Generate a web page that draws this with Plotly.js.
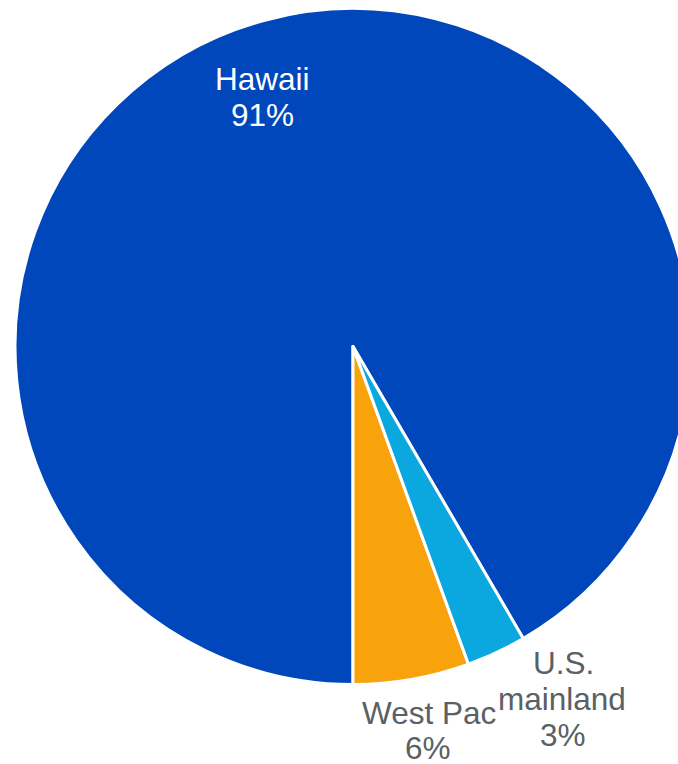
<!DOCTYPE html>
<html>
<head>
<meta charset="utf-8">
<script src="https://cdn.plot.ly/plotly-3.0.1.min.js"></script>
<style>
html,body{margin:0;padding:0;overflow:hidden;background:#fff;width:678px;height:764px;}
#chart{width:710px;height:764px;}
</style>
</head>
<body>
<div id="chart"></div>
<script>
// Data (Plotly counterclockwise: first slice ends at 6 o'clock, rest continue CCW from there)
const categories = ["Hawaii", "West Pac", "U.S. mainland"];
const shares = [91.6, 5.55, 2.85];
const shareLabels = ["91%", "6%", "3%"];
const colors = ["#0047BB", "#F8A20C", "#0BA7DF"];

const W = 710, H = 764;
const cx = 353, cy = 346.5, r = 338;
const px = x => x / W;
const py = y => 1 - y / H;

const trace = {
  type: "pie",
  labels: categories,
  values: shares,
  sort: false,
  direction: "counterclockwise",
  rotation: 180,
  textinfo: "none",
  hoverinfo: "none",
  marker: { colors: colors, line: { color: "#ffffff", width: 3 } },
  domain: { x: [px(cx - r), px(cx + r)], y: [py(cy + r), py(cy - r)] },
  showlegend: false
};

// label lines: [text, centerX, baselineY, color]
const gray = "#5A6063";
const labelLines = [
  [categories[0], 262, 90, "#ffffff"],
  [shareLabels[0], 262, 126, "#ffffff"],
  ["U.S.", 563, 674, gray],
  ["mainland", 562, 710, gray],
  [shareLabels[2], 563, 746, gray],
  [categories[1], 429, 724, gray],
  [shareLabels[1], 428, 759, gray]
];
const fs = 31.5;
const annotations = labelLines.map(([t, x, b, c]) => ({
  text: t, xref: "paper", yref: "paper",
  x: px(x), y: py(b - 10.9), xanchor: "center", yanchor: "middle",
  showarrow: false, font: { family: "Liberation Sans, Arial, sans-serif", size: fs, color: c }
}));

Plotly.newPlot("chart", [trace], {
  width: W, height: H,
  margin: { l: 0, r: 0, t: 0, b: 0 },
  paper_bgcolor: "#ffffff",
  annotations: annotations
}, { staticPlot: true, displayModeBar: false });
</script>
</body>
</html>
